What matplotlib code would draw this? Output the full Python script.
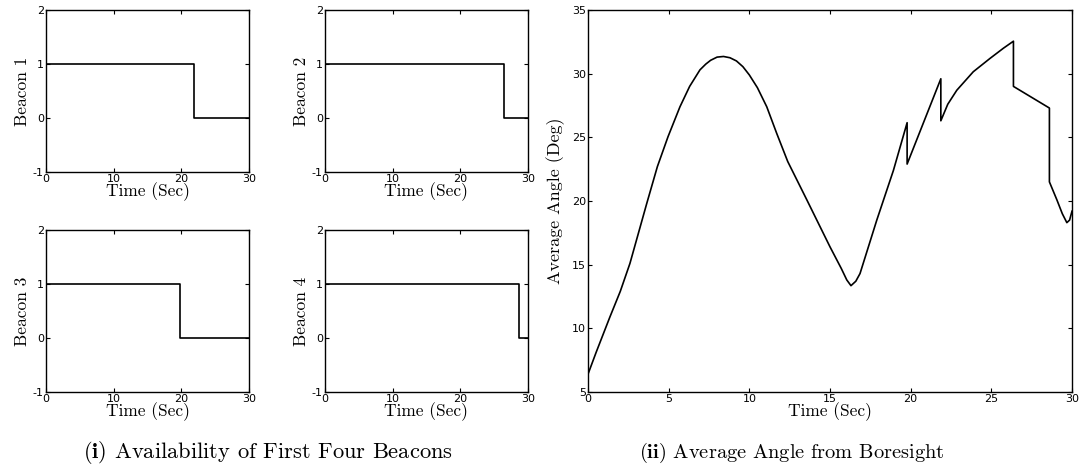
import numpy as np
import matplotlib
matplotlib.use("Agg")
import matplotlib.pyplot as plt

plt.rcParams['mathtext.fontset'] = 'cm'
plt.rcParams['axes.unicode_minus'] = False

# Beacon availability: 1 until the drop time, then 0
beacon_names = ['Beacon 1', 'Beacon 2', 'Beacon 3', 'Beacon 4']
beacon_drop = [21.9, 26.4, 19.8, 28.6]
t_end = 30

# Average angle from boresight (repeated times mark the jumps)
angle_t = [0, 0.5, 1.36, 2.0, 2.6, 3.64, 4.3, 4.96, 5.7, 6.3, 6.94, 7.3, 7.6, 8.0, 8.4,
           8.8, 9.2, 9.6, 10.0, 10.5, 11.08, 11.7, 12.38, 13.56, 15.0, 15.7, 16.04, 16.3, 16.6,
           16.86, 17.9, 18.93, 19.78, 19.78, 21.87, 21.87, 22.3, 22.86, 23.88, 24.92,
           25.75, 26.37, 26.37, 28.6, 28.6, 29.06, 29.4, 29.68, 29.85, 30.0]
angle_v = [6.4, 8.1, 10.9, 12.9, 15.1, 19.8, 22.7, 25.05, 27.4, 29.0, 30.3, 30.75, 31.05, 31.3, 31.35,
           31.25, 31.0, 30.55, 29.9, 28.9, 27.4, 25.3, 23.1, 20.1, 16.4, 14.7, 13.8, 13.35, 13.7,
           14.3, 18.5, 22.4, 26.15, 22.9, 29.6, 26.3, 27.6, 28.7, 30.15, 31.2,
           32.0, 32.55, 29.0, 27.3, 21.5, 20.1, 19.0, 18.3, 18.5, 19.2]

W, H = 1084, 472
fig = plt.figure(figsize=(W / 100, H / 100), dpi=100)


def px_axes(left, top, right, bottom):
    return fig.add_axes([left / W, 1 - bottom / H, (right - left) / W, (bottom - top) / H])


def style(ax):
    ax.tick_params(direction='in', top=True, right=True, length=3, width=0.8,
                   labelsize=8, pad=1.5)
    for s in ax.spines.values():
        s.set_linewidth(1.0)
    for lab in ax.get_xticklabels() + ax.get_yticklabels():
        lab.set_fontfamily('DejaVu Sans')


boxes = [(46, 10, 249, 172), (325, 10, 528, 172),
         (46, 230, 249, 392), (325, 230, 528, 392)]
for name, drop, box in zip(beacon_names, beacon_drop, boxes):
    ax = px_axes(*box)
    ax.step([0, drop, t_end], [1, 0, 0], where='post', color='k', lw=1.2)
    ax.set_xlim(0, 30)
    ax.set_ylim(-1, 2)
    ax.set_xticks([0, 10, 20, 30])
    ax.set_yticks([-1, 0, 1, 2])
    ax.set_xlabel('Time (Sec)', family='cmr10', fontsize=12.5, labelpad=-1)
    ax.set_ylabel(name, family='cmr10', fontsize=12.5, labelpad=2)
    style(ax)

ax = px_axes(588, 10, 1072, 392)
ax.plot(angle_t, angle_v, color='k', lw=1.2)
ax.set_xlim(0, 30)
ax.set_ylim(5, 35)
ax.set_xticks(np.arange(0, 31, 5))
ax.set_yticks(np.arange(5, 36, 5))
ax.set_xlabel('Time (Sec)', family='cmr10', fontsize=12.5, labelpad=-1)
ax.set_ylabel('Average Angle (Deg)', family='cmr10', fontsize=13, labelpad=5)
style(ax)

fig.text(268 / W, 1 - 453 / H, r'$\mathbf{(i)}$ Availability of First Four Beacons',
         family='cmr10', fontsize=16.2, ha='center', va='center')
fig.text(792 / W, 1 - 453 / H, r'$\mathbf{(ii)}$ Average Angle from Boresight',
         family='cmr10', fontsize=14.7, ha='center', va='center')

fig.savefig('out.png', dpi=100)
